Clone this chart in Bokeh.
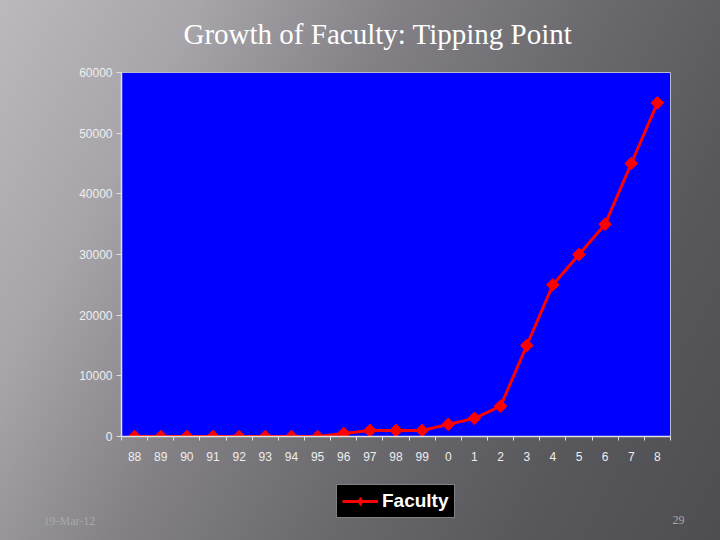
from bokeh.plotting import figure
from bokeh.models import (Range1d, FixedTicker, Legend, LegendItem, Label)
from bokeh.layouts import column
from bokeh.embed import file_html
from bokeh.resources import INLINE
import math

years = ["88", "89", "90", "91", "92", "93", "94", "95", "96", "97", "98", "99",
         "0", "1", "2", "3", "4", "5", "6", "7", "8"]
faculty = [0, 0, 0, 0, 0, 0, 0, 0, 500, 1000, 1000, 1000,
           2000, 3000, 5000, 15000, 25000, 30000, 35000, 45000, 55000]
y_ticks = [0, 10000, 20000, 30000, 40000, 50000, 60000]
title_text = "Growth of Faculty: Tipping Point"
series_name = "Faculty"
footer_date = "19-Mar-12"
footer_page = "29"

xs = list(range(len(years)))
LINE_COLOR = "#ff0000"
NAN = float("nan")

p = figure(frame_width=549, frame_height=364, output_backend="svg", toolbar_location=None,
           x_range=Range1d(-0.5, len(years) - 0.5), y_range=Range1d(0, 60000),
           min_border_left=121, min_border_right=50, min_border_top=72,
           min_border_bottom=104)
p.frame_align = False
p.styles = {"background": "linear-gradient(118deg, #bbb9be 0%, #a7a5aa 20%, #838186 40%, #6a696e 60%, #58575c 80%, #4e4d52 100%)"}
p.border_fill_alpha = 0
p.background_fill_color = "#0000ff"
p.outline_line_color = "#b8b8d0"
p.outline_line_width = 1
p.grid.visible = False

# axes
p.xaxis.ticker = FixedTicker(ticks=xs, minor_ticks=[x - 0.5 for x in xs] + [xs[-1] + 0.5])
p.xaxis.major_label_overrides = {i: y for i, y in enumerate(years)}
p.yaxis.ticker = FixedTicker(ticks=y_ticks)
for ax in (p.xaxis[0], p.yaxis[0]):
    ax.axis_line_color = "#e0e0e0"
    ax.axis_line_width = 1.5
    ax.major_label_text_color = "#eeeeee"
    ax.major_label_text_font = "Liberation Sans"
    ax.major_label_text_font_size = "12px"
p.xaxis.major_tick_line_color = None
p.xaxis.minor_tick_line_color = "#e0e0e0"
p.xaxis.minor_tick_out = 4
p.xaxis.minor_tick_in = 0
p.xaxis.major_label_standoff = 9
p.yaxis.minor_tick_line_color = None
p.yaxis.major_tick_line_color = "#e0e0e0"
p.yaxis.major_tick_out = 5
p.yaxis.major_tick_in = 0
p.yaxis.major_label_standoff = 4

p.line(xs, faculty, line_color=LINE_COLOR, line_width=3)
p.scatter(xs, faculty, marker="square", angle=math.pi / 4, size=9,
          fill_color=LINE_COLOR, line_color=LINE_COLOR)

# transparent overlay over the whole slide: title, legend and footer texts
over = figure(frame_width=720, frame_height=540, output_backend="svg", toolbar_location=None,
              x_range=Range1d(0, 720), y_range=Range1d(0, 540),
              min_border=0, margin=(-540, 0, 0, 0))
over.frame_align = False
over.axis.visible = False
over.grid.visible = False
over.outline_line_color = None
over.background_fill_alpha = 0
over.border_fill_alpha = 0

over.add_layout(Label(x=183, y=507, x_units="screen", y_units="screen", text=title_text,
                      text_font="Liberation Serif", text_font_size="29px",
                      text_baseline="alphabetic", text_color="#ffffff"))

lg_line = over.line([NAN], [NAN], line_color=LINE_COLOR, line_width=3)
lg_mark = over.scatter([NAN], [NAN], marker="diamond", size=18,
                       fill_color=LINE_COLOR, line_color=LINE_COLOR)
legend = Legend(items=[LegendItem(label=series_name, renderers=[lg_line, lg_mark])],
                location=(336, 22), orientation="horizontal",
                background_fill_color="#000000", background_fill_alpha=1,
                border_line_color="#ffffff", border_line_width=1.5,
                label_text_color="#ffffff", label_text_font="Liberation Sans",
                label_text_font_size="19px", label_text_font_style="bold",
                glyph_width=36, glyph_height=20, padding=5, margin=0,
                label_standoff=4)
over.add_layout(legend, "center")
over.add_layout(Label(x=43, y=13, x_units="screen", y_units="screen", text=footer_date,
                      text_font="Liberation Serif", text_font_size="12px",
                      text_color="#a8a8a8"))
over.add_layout(Label(x=672, y=17, x_units="screen", y_units="screen", text=footer_page,
                      text_font="Liberation Serif", text_font_size="12px",
                      text_color="#a8a8a8"))

layout = column(p, over, spacing=0)
open("out.html", "w").write(file_html(layout, INLINE))
